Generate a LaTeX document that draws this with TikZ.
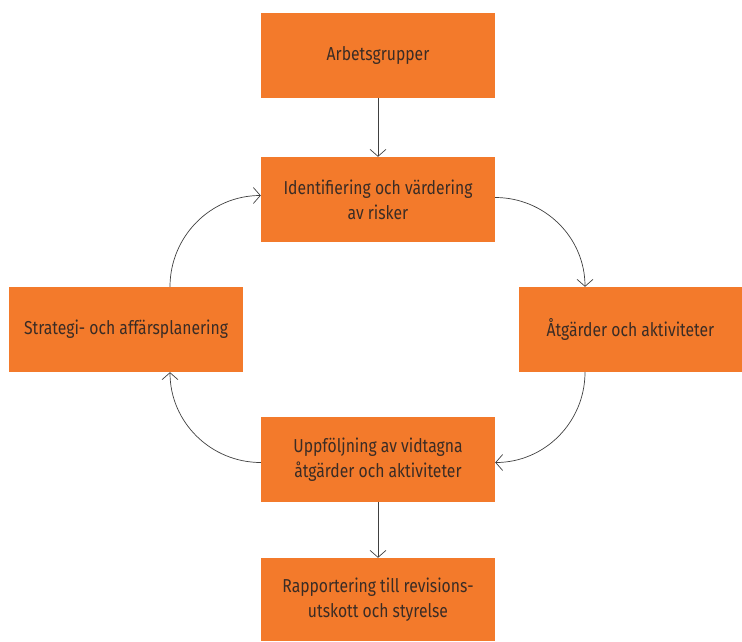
\documentclass[tikz,border=0pt]{standalone}
\usepackage{fontspec}
\setmainfont[FakeStretch=0.84]{Fira Sans}
\usetikzlibrary{arrows.meta}
\definecolor{boxorange}{HTML}{F37A2B}
\definecolor{boxtext}{HTML}{3A2C25}

\begin{document}
\begin{tikzpicture}[x=1pt,y=1pt,
    box/.style={rectangle,fill=boxorange,text=boxtext,minimum width=234,minimum height=85,
      align=center,inner sep=0pt,font=\fontsize{18.7}{25}\selectfont},
    flow/.style={draw=black!75,line width=0.7pt,-{Straight Barb[length=7pt,width=16pt]}}]
    \useasboundingbox (0,0) rectangle (742,-641);
    \node[box] (arb) at (378,-55.5) {Arbetsgrupper};
    \node[box] (ident) at (378,-199.5) {Identifiering och värdering\\av risker};
    \node[box,minimum width=223] (atg) at (630.5,-329.5) {Åtgärder och aktiviteter};
    \node[box] (strat) at (126,-329.5) {Strategi- och affärsplanering};
    \node[box] (uppf) at (378,-459.5) {Uppföljning av vidtagna\\åtgärder och aktiviteter};
    \node[box,minimum height=83] (rapp) at (378,-599.5) {Rapportering till revisions-\\utskott och styrelse};
    \draw[flow] (arb) -- (ident);
    \draw[flow] (uppf) -- (rapp);
    \draw[flow] ([yshift=2]ident.east) to[out=0,in=90] ([xshift=-45.5]atg.north);
    \draw[flow] ([xshift=-45.5]atg.south) to[out=-90,in=0] ([yshift=-3]uppf.east);
    \draw[flow] ([yshift=-3]uppf.west) to[out=180,in=-90] ([xshift=44]strat.south);
    \draw[flow] ([xshift=44]strat.north) to[out=90,in=180] ([yshift=4]ident.west);
  \end{tikzpicture}
\end{document}
